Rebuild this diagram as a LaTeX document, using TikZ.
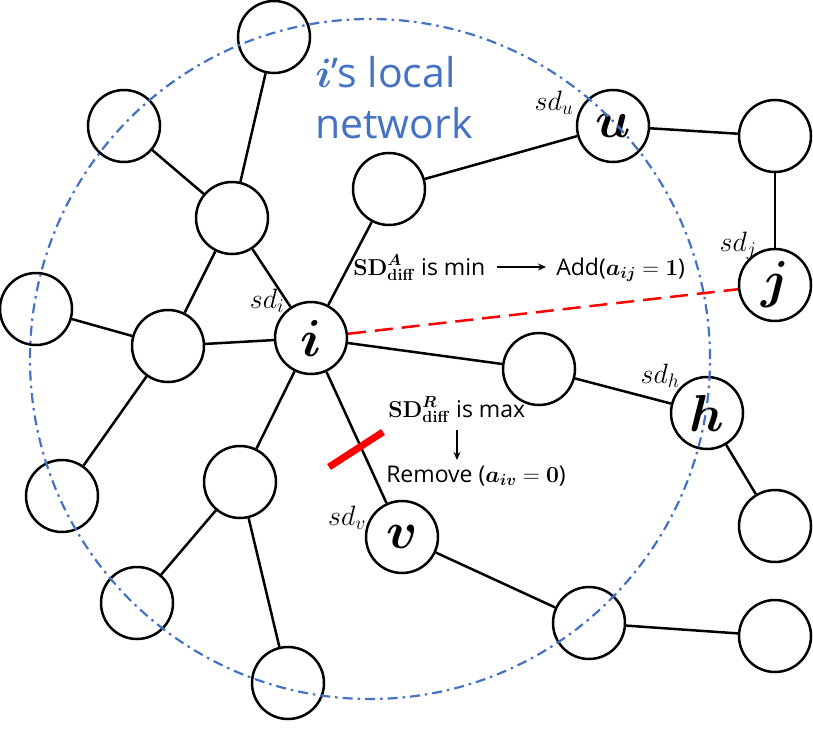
\RequirePackage{fix-cm}
\documentclass[tikz,border=0pt]{standalone}
\usepackage{amsmath}
\usepackage[no-math]{fontspec}
\usepackage{bm}
\setmainfont{Open Sans}
\usetikzlibrary{arrows.meta}
\definecolor{netblue}{HTML}{4472C4}
\begin{document}
\begin{tikzpicture}[x=1pt,y=-1pt,line width=2.5pt,
  nd/.style={circle,draw,fill=white,minimum size=72pt,inner sep=0pt,font=\fontsize{52}{52}\selectfont},
  sdl/.style={font=\fontsize{28}{28}\selectfont,inner sep=0pt},
  txt/.style={anchor=base west,inner sep=0pt,font=\fontsize{23}{23}\selectfont},
  arr/.style={-{Stealth[length=8pt,width=7pt]},line width=1.8pt}]
\useasboundingbox (0,0) rectangle (813,733);
% nodes
\node[nd] (top) at (274,37) {};
\node[nd] (ul) at (124,126) {};
\node[nd] (m1) at (232,218) {};
\node[nd] (left) at (36,309) {};
\node[nd] (m2) at (168,346) {};
\node[nd] (i) at (311,338) {$\bm{i}$};
\node[nd] (n1) at (389,189) {};
\node[nd] (u) at (613,126) {$\bm{u}$};
\node[nd] (tr) at (775,136) {};
\node[nd] (j) at (775,285) {$\bm{j}$};
\node[nd] (n2) at (539,369) {};
\node[nd] (h) at (707,413) {$\bm{h}$};
\node[nd] (hr) at (775,526) {};
\node[nd] (m3) at (240,482) {};
\node[nd] (ll) at (62,496) {};
\node[nd] (lb) at (137,603) {};
\node[nd] (v) at (402,537) {$\bm{v}$};
\node[nd] (n3) at (589,623) {};
\node[nd] (br) at (775,636) {};
\node[nd] (bot) at (288,683) {};
% edges
\draw (top) -- (m1);
\draw (ul) -- (m1);
\draw (m1) -- (m2);
\draw (m1) -- (i);
\draw (left) -- (m2);
\draw (m2) -- (i);
\draw (m2) -- (ll);
\draw (i) -- (n1);
\draw (n1) -- (u);
\draw (u) -- (tr);
\draw (tr) -- (j);
\draw (i) -- (n2);
\draw (n2) -- (h);
\draw (h) -- (hr);
\draw (i) -- (m3);
\draw (m3) -- (lb);
\draw (m3) -- (bot);
\draw (i) -- (v);
\draw (v) -- (n3);
\draw (n3) -- (br);
\draw[red,dash pattern=on 18pt off 9pt] (i) -- (j);
% local network circle
\draw[netblue,line width=2.2pt,dash pattern=on 10pt off 5pt on 2.5pt off 5pt] (370,359) circle [radius=340pt];
% red cut bar
\coordinate (rb1) at (329,467);
\coordinate (rb2) at (383,432);
\draw[red,line width=7pt] (rb1) -- (rb2);
% sd labels
\node[sdl] (sdi) at (267,301) {$sd_i$};
\node[sdl] (sdu) at (554,103) {$sd_u$};
\node[sdl] (sdj) at (738,246) {$sd_j$};
\node[sdl] (sdh) at (660,376) {$sd_h$};
\node[sdl] (sdv) at (347,518) {$sd_v$};
% title
\node[anchor=base west,inner sep=0pt,text=netblue,font=\fontsize{41}{41}\selectfont] (t1) at (314,88) {$\bm{i}$’s local};
\node[anchor=base west,inner sep=0pt,text=netblue,font=\fontsize{41}{41}\selectfont] (t2) at (314,139) {network};
% annotations
\node[txt] (sda) at (352,275) {$\mathbf{SD}^{\bm{A}}_{\mathbf{diff}}$ is min};
\node[txt] (add) at (555,275) {Add($\bm{a}_{\bm{ij}}=\mathbf{1}$)};
\coordinate (a1s) at (497,267);
\coordinate (a1e) at (546,267);
\draw[arr] (a1s) -- (a1e);
\node[txt] (sdr) at (387,417) {$\mathbf{SD}^{\bm{R}}_{\mathbf{diff}}$ is max};
\node[txt] (rem) at (385,482) {Remove ($\bm{a}_{\bm{iv}}=\mathbf{0}$)};
\coordinate (a2s) at (457,430);
\coordinate (a2e) at (457,460);
\draw[arr] (a2s) -- (a2e);
\end{tikzpicture}
\end{document}
